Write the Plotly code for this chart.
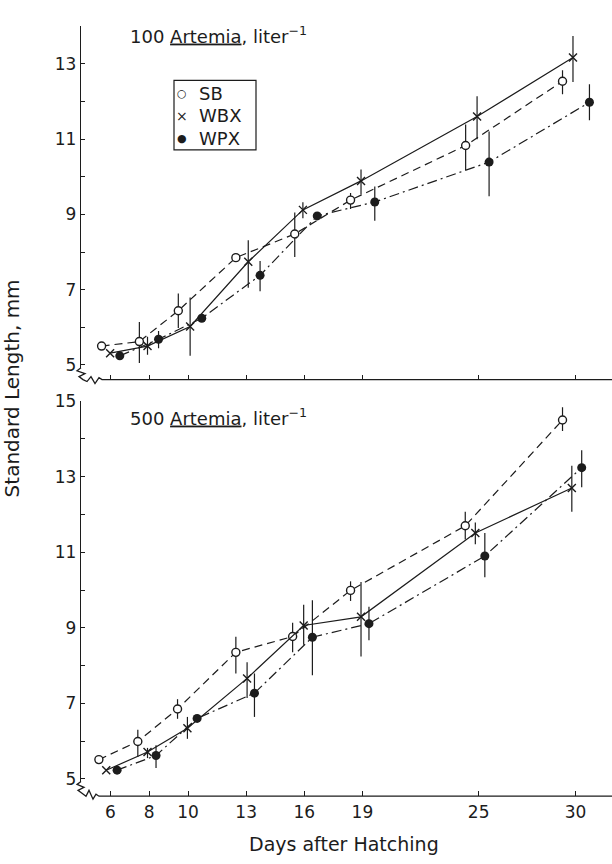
import plotly.graph_objects as go

# ---------------- data ----------------
tick_days = [6, 8, 10, 13, 16, 19, 25, 30]
tick_day_labels = ["6", "8", "10", "13", "16", "19", "25", "30"]
series_names = ["SB", "WBX", "WPX"]
legend_glyphs = ["○", "×", "●"]

# Top panel: 100 Artemia per liter
top_sb_x = [5.54, 7.49, 9.50, 12.47, 15.51, 18.39, 24.33, 29.33]
top_sb_y = [5.50, 5.62, 6.44, 7.85, 8.48, 9.38, 10.83, 12.54]
top_sb_lo = [5.50, 5.05, 5.98, 7.85, 7.87, 9.14, 10.18, 12.19]
top_sb_hi = [5.50, 6.14, 6.90, 7.85, 9.05, 9.57, 11.39, 12.83]

top_wbx_x = [5.98, 7.91, 10.11, 13.11, 15.93, 18.93, 24.92, 29.87]
top_wbx_y = [5.31, 5.50, 6.02, 7.74, 9.12, 9.89, 11.60, 13.17]
top_wbx_lo = [5.31, 5.27, 5.24, 7.05, 8.90, 9.53, 11.00, 12.52]
top_wbx_hi = [5.31, 5.75, 6.79, 8.31, 9.32, 10.19, 12.14, 13.74]

top_wpx_x = [6.48, 8.48, 10.71, 13.72, 16.67, 19.64, 25.54, 30.72]
top_wpx_y = [5.24, 5.68, 6.24, 7.38, 8.96, 9.33, 10.39, 11.98]
top_wpx_lo = [5.24, 5.44, 6.24, 6.96, 8.96, 8.83, 9.48, 11.50]
top_wpx_hi = [5.24, 5.90, 6.24, 7.76, 8.96, 9.74, 11.20, 12.46]

# Bottom panel: 500 Artemia per liter
bot_sb_x = [5.40, 7.41, 9.46, 12.47, 15.40, 18.39, 24.31, 29.33]
bot_sb_y = [5.51, 5.99, 6.85, 8.35, 8.77, 9.99, 11.70, 14.50]
bot_sb_lo = [5.51, 5.58, 6.59, 7.79, 8.35, 9.71, 11.34, 14.21]
bot_sb_hi = [5.51, 6.30, 7.11, 8.76, 9.13, 10.23, 12.07, 14.84]

bot_wbx_x = [5.78, 7.91, 9.97, 13.05, 15.97, 18.93, 24.83, 29.81]
bot_wbx_y = [5.23, 5.71, 6.34, 7.66, 9.06, 9.29, 11.51, 12.70]
bot_wbx_lo = [5.23, 5.55, 6.06, 7.14, 8.55, 8.24, 11.21, 12.07]
bot_wbx_hi = [5.23, 5.82, 6.64, 8.09, 9.61, 10.21, 11.79, 13.29]

bot_wpx_x = [6.34, 8.35, 10.47, 13.43, 16.42, 19.34, 25.32, 30.32]
bot_wpx_y = [5.23, 5.62, 6.60, 7.27, 8.75, 9.11, 10.90, 13.24]
bot_wpx_lo = [5.23, 5.29, 6.60, 6.64, 7.74, 8.67, 10.34, 12.72]
bot_wpx_hi = [5.23, 5.89, 6.60, 7.79, 9.73, 9.56, 11.51, 13.70]

top_yticks = [5, 7, 9, 11, 13]
top_yminor = [6, 8, 10, 12, 14]
bot_yticks = [5, 7, 9, 11, 13, 15]
bot_yminor = [6, 8, 10, 12, 14]

# ---------------- styling ----------------
W, H = 612, 864
INK = "#1c1c1c"
FONT = "DejaVu Sans"


def px(x):
    return x / W


def py(y):
    return 1 - y / H


styles = {
    "SB": dict(symbol="circle", size=8, fill="white", dash="8px,5px", mline=1.4),
    "WBX": dict(symbol="x-thin-open", size=8, fill=INK, dash="solid", mline=1.4),
    "WPX": dict(symbol="circle", size=9, fill=INK, dash="10px,4px,2px,4px", mline=0),
}

fig = go.Figure()


def add_series(name, xs, ys, lo, hi, xa, ya):
    st = styles[name]
    fig.add_trace(go.Scatter(
        x=xs, y=ys, mode="lines+markers", name=name, showlegend=False,
        xaxis=xa, yaxis=ya,
        line=dict(color=INK, width=1.2, dash=st["dash"]),
        marker=dict(symbol=st["symbol"], size=st["size"], color=st["fill"],
                    line=dict(color=INK, width=st["mline"])),
        error_y=dict(type="data", symmetric=False,
                     array=[h - v for h, v in zip(hi, ys)],
                     arrayminus=[v - l for v, l in zip(ys, lo)],
                     width=0, thickness=1.2, color=INK),
    ))


add_series("SB", top_sb_x, top_sb_y, top_sb_lo, top_sb_hi, "x", "y")
add_series("WBX", top_wbx_x, top_wbx_y, top_wbx_lo, top_wbx_hi, "x", "y")
add_series("WPX", top_wpx_x, top_wpx_y, top_wpx_lo, top_wpx_hi, "x", "y")
add_series("SB", bot_sb_x, bot_sb_y, bot_sb_lo, bot_sb_hi, "x2", "y2")
add_series("WBX", bot_wbx_x, bot_wbx_y, bot_wbx_lo, bot_wbx_hi, "x2", "y2")
add_series("WPX", bot_wpx_x, bot_wpx_y, bot_wpx_lo, bot_wpx_hi, "x2", "y2")

x_range = [6 + (81 - 110.5) / 19.375, 6 + (612 - 110.5) / 19.375]
x_domain = [px(81), 1.0]

common_x = dict(range=x_range, domain=x_domain, showline=False, showgrid=False,
                zeroline=False, ticks="inside", ticklen=5, tickwidth=1.2,
                tickcolor=INK, tickvals=tick_days, anchor="free")
common_y = dict(showline=True, linecolor=INK, linewidth=1.3, showgrid=False,
                zeroline=False, ticks="inside", ticklen=4, tickwidth=1.2,
                tickcolor=INK, tickfont=dict(family=FONT, size=17, color=INK))

top_dom = [py(365), py(16.6)]
top_rng = [5 + (362 - 365) / 38.375, 14.0]
bot_dom = [py(787), py(399)]
bot_rng = [5 + (784.3 - 787) / 38.53, 15.0]

fig.update_layout(
    width=W, height=H,
    margin=dict(l=0, r=0, t=0, b=0),
    paper_bgcolor="white", plot_bgcolor="rgba(0,0,0,0)",
    font=dict(family=FONT, size=17, color=INK),
    showlegend=False,
    xaxis=dict(**common_x, position=py(377), showticklabels=False),
    yaxis=dict(**common_y, domain=top_dom, range=top_rng, anchor="x",
               tickvals=top_yticks, ticktext=[str(v) for v in top_yticks],
               minor=dict(tickvals=top_yminor, ticks="inside", ticklen=4,
                          tickwidth=1.2, tickcolor=INK, showgrid=False)),
    xaxis2=dict(**common_x, position=py(801.7), showticklabels=True,
                ticktext=tick_day_labels, ticklabelstandoff=4,
                tickfont=dict(family=FONT, size=17, color=INK)),
    yaxis2=dict(**common_y, domain=bot_dom, range=bot_rng, anchor="x2",
                tickvals=bot_yticks, ticktext=[str(v) for v in bot_yticks],
                minor=dict(tickvals=bot_yminor, ticks="inside", ticklen=4,
                           tickwidth=1.2, tickcolor=INK, showgrid=False)),
)


def path_from(points):
    return "M " + " L ".join(f"{px(a):.5f},{py(b):.5f}" for a, b in points)


top_squiggle = [(81, 365), (77, 368), (85, 371), (79, 374), (83, 377), (87, 379),
                (91, 374), (95, 381), (99, 375), (102, 377), (612, 377)]
bot_squiggle = [(81, 787), (77, 790), (84, 793), (78, 796), (82, 799), (86, 802),
                (89, 796), (93, 805), (96, 800), (99, 802), (612, 802)]
for pts in (top_squiggle, bot_squiggle):
    fig.add_shape(type="path", xref="paper", yref="paper", path=path_from(pts),
                  line=dict(color=INK, width=1.3))

# legend box (manual, to match the compact original)
fig.add_shape(type="rect", xref="paper", yref="paper",
              x0=px(174), x1=px(256), y0=py(142.7), y1=py(71.7),
              line=dict(color=INK, width=1.2), fillcolor="white", layer="below")
glyph_sizes = [11, 14, 11]
for i, (name, glyph) in enumerate(zip(series_names, legend_glyphs)):
    yc = 85 + 23 * i
    fig.add_annotation(xref="paper", yref="paper", x=px(182), y=py(yc),
                       xanchor="center", yanchor="middle", showarrow=False,
                       text=glyph,
                       font=dict(family=FONT, size=glyph_sizes[i], color=INK))
    fig.add_annotation(xref="paper", yref="paper", x=px(197), y=py(yc),
                       xanchor="left", yanchor="middle", showarrow=False,
                       text=name, font=dict(family=FONT, size=18, color=INK))

fig.add_annotation(xref="paper", yref="paper", x=px(128), y=py(25),
                   xanchor="left", yanchor="middle", showarrow=False,
                   text="100 <u>Artemia</u>, liter<sup>−1</sup>",
                   font=dict(family=FONT, size=18, color=INK))
fig.add_annotation(xref="paper", yref="paper", x=px(128), y=py(415),
                   xanchor="left", yanchor="middle", showarrow=False,
                   text="500 <u>Artemia</u>, liter<sup>−1</sup>",
                   font=dict(family=FONT, size=18, color=INK))
fig.add_annotation(xref="paper", yref="paper", x=px(12), y=py(386),
                   xanchor="center", yanchor="middle", showarrow=False,
                   textangle=-90, text="Standard Length, mm",
                   font=dict(family=FONT, size=20, color=INK))
fig.add_annotation(xref="paper", yref="paper", x=px(344), y=0,
                   xanchor="center", yanchor="bottom", showarrow=False,
                   text="Days after Hatching",
                   font=dict(family=FONT, size=19, color=INK))

fig.write_html("out.html", config={"displayModeBar": False},
               post_script="document.body.style.margin='0px';")
